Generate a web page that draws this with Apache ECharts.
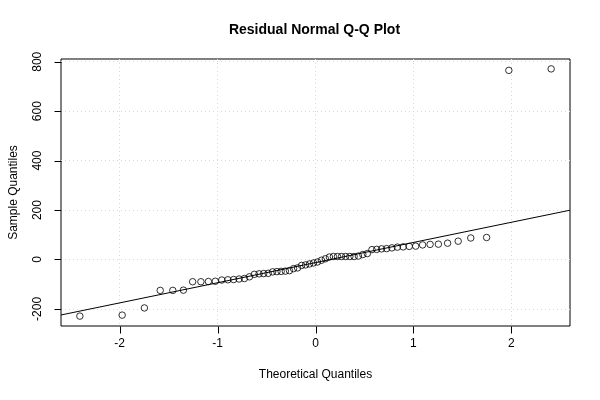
<!DOCTYPE html>
<html>
<head>
<meta charset="utf-8">
<script src="https://cdn.jsdelivr.net/npm/echarts@6/dist/echarts.min.js"></script>
<style>
  html, body { margin: 0; padding: 0; background: #fff; }
  #main { width: 600px; height: 400px; }
</style>
</head>
<body>
<div id="main"></div>
<script>
// sorted residuals (n = 62)
const residuals = [
  -229, -225, -196, -125, -125, -124, -90, -90, -89, -88,
  -83, -82, -81, -79, -77, -70, -60, -58, -57, -56,
  -50, -49, -48, -47, -45, -37, -34, -24, -22, -18,
  -14, -10, -3, 3, 10, 12, 12, 12, 12, 12,
  12, 14, 20, 24, 40, 41, 43, 44, 47, 50,
  51, 53, 54, 59, 61, 62, 66, 74, 87, 89,
  765, 771
];
const xTicks = [-2, -1, 0, 1, 2];
const yTicks = [-200, 0, 200, 400, 600, 800];

// inverse normal CDF (Acklam)
function qnorm(p) {
  const a = [-39.69683028665376, 220.9460984245205, -275.9285104469687, 138.3577518672690, -30.66479806614716, 2.506628277459239];
  const b = [-54.47609879822406, 161.5858368580409, -155.6989798598866, 66.80131188771972, -13.28068155288572];
  const c = [-0.007784894002430293, -0.3223964580411365, -2.400758277161838, -2.549732539343734, 4.374664141464968, 2.938163982698783];
  const d = [0.007784695709041462, 0.3224671290700398, 2.445134137142996, 3.754408661907416];
  const pl = 0.02425;
  let q, r;
  if (p < pl) {
    q = Math.sqrt(-2 * Math.log(p));
    return (((((c[0]*q+c[1])*q+c[2])*q+c[3])*q+c[4])*q+c[5]) / ((((d[0]*q+d[1])*q+d[2])*q+d[3])*q+1);
  } else if (p <= 1 - pl) {
    q = p - 0.5; r = q * q;
    return (((((a[0]*r+a[1])*r+a[2])*r+a[3])*r+a[4])*r+a[5])*q / (((((b[0]*r+b[1])*r+b[2])*r+b[3])*r+b[4])*r+1);
  } else {
    q = Math.sqrt(-2 * Math.log(1 - p));
    return -(((((c[0]*q+c[1])*q+c[2])*q+c[3])*q+c[4])*q+c[5]) / ((((d[0]*q+d[1])*q+d[2])*q+d[3])*q+1);
  }
}

function quantile7(sorted, p) {
  const h = (sorted.length - 1) * p;
  const lo = Math.floor(h);
  const hi = Math.min(lo + 1, sorted.length - 1);
  return sorted[lo] + (h - lo) * (sorted[hi] - sorted[lo]);
}

const n = residuals.length;
const a = n <= 10 ? 3 / 8 : 0.5;
const theo = residuals.map((_, i) => qnorm((i + 1 - a) / (n + 1 - 2 * a)));
const points = residuals.map((v, i) => [theo[i], v]);

// qqline through the quartiles
const y1 = quantile7(residuals, 0.25), y3 = quantile7(residuals, 0.75);
const x1 = qnorm(0.25), x3 = qnorm(0.75);
const slope = (y3 - y1) / (x3 - x1);
const intercept = y1 - slope * x1;

// R style 4% padding of the ranges
function padded(lo, hi) {
  const d = (hi - lo) * 0.04;
  return [lo - d, hi + d];
}
const xr = padded(theo[0], theo[n - 1]);
const yr = padded(residuals[0], residuals[n - 1]);
const linePts = [[xr[0], intercept + slope * xr[0]], [xr[1], intercept + slope * xr[1]]];

const font = 'Liberation Sans';
const tickLen = 7;
const chart = echarts.init(document.getElementById('main'), null, { renderer: 'canvas' });

const gridLine = { show: true, lineStyle: { color: '#d8d8d8', type: [1, 3], width: 1 } };

// outward tick marks at the tick values, placed with the axes' own scales
function tickSeries(data, horizontal) {
  return {
    type: 'custom',
    xAxisIndex: 0, yAxisIndex: 0,
    clip: false,
    silent: true,
    data: data,
    renderItem: function (params, api) {
      const p = api.coord([api.value(0), api.value(1)]);
      const x = Math.round(p[0]) + 0.5;
      const y = Math.round(p[1]) + 0.5;
      const shape = horizontal
        ? { x1: x, y1: y, x2: x - tickLen, y2: y }
        : { x1: x, y1: y, x2: x, y2: y + tickLen };
      return { type: 'line', shape: shape, style: { stroke: '#000', lineWidth: 1 } };
    },
    z: 4
  };
}

const option = {
  backgroundColor: '#ffffff',
  animation: false,
  title: {
    text: 'Residual Normal Q-Q Plot',
    left: 314.5,
    textAlign: 'center',
    top: 23,
    padding: 0,
    textStyle: { fontFamily: font, fontSize: 14, fontWeight: 'bold', color: '#000' }
  },
  grid: {
    left: 59, right: 30, top: 59, bottom: 74,
    show: true, borderColor: '#000', borderWidth: 1, backgroundColor: 'transparent'
  },
  xAxis: {
    type: 'value',
    min: xr[0], max: xr[1],
    position: 'bottom',
    name: 'Theoretical Quantiles',
    nameLocation: 'middle',
    nameGap: 43,
    nameTextStyle: { fontFamily: font, fontSize: 12, color: '#000' },
    axisLine: { show: false, onZero: false },
    axisTick: { show: false, customValues: xTicks },
    axisLabel: { fontFamily: font, fontSize: 12, color: '#000', margin: 12, customValues: xTicks },
    splitLine: gridLine
  },
  yAxis: {
    type: 'value',
    min: yr[0], max: yr[1],
    position: 'left',
    name: 'Sample Quantiles',
    nameLocation: 'middle',
    nameGap: 41,
    nameRotate: 90,
    nameTextStyle: { fontFamily: font, fontSize: 12, color: '#000' },
    axisLine: { show: false, onZero: false },
    axisTick: { show: false, customValues: yTicks },
    axisLabel: { fontFamily: font, fontSize: 12, color: '#000', margin: 17, rotate: 90, customValues: yTicks },
    splitLine: gridLine
  },
  series: [
    {
      type: 'scatter',
      data: points,
      symbol: 'circle',
      symbolSize: 6.5,
      itemStyle: { color: 'rgba(0,0,0,0)', borderColor: '#000', borderWidth: 1 },
      z: 3
    },
    {
      type: 'line',
      data: linePts,
      showSymbol: false,
      symbol: 'none',
      lineStyle: { color: '#000', width: 1 },
      clip: true,
      z: 2
    },
    tickSeries(xTicks.map(v => [v, yr[0]]), false),
    tickSeries(yTicks.map(v => [xr[0], v]), true)
  ]
};

chart.setOption(option);
</script>
</body>
</html>
